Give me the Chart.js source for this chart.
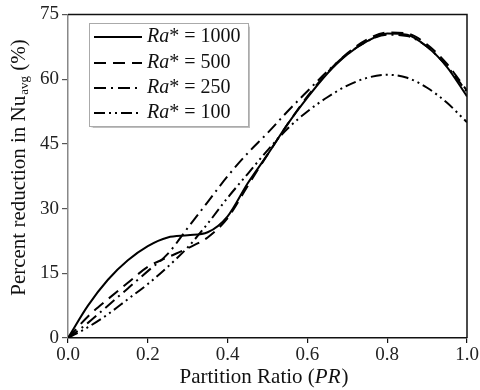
<!DOCTYPE html>
<html>
<head>
<meta charset="utf-8">
<script src="https://cdn.jsdelivr.net/npm/chart.js@4"></script>
<style>
  body { margin: 0; background: #fff; }
  #wrap { width: 480px; height: 390px; }
</style>
</head>
<body>
<div id="wrap"><canvas id="myChart" width="480" height="390"></canvas></div>
<script>
const pr = [0, 0.05, 0.1, 0.15, 0.2, 0.25, 0.3, 0.35, 0.4, 0.45, 0.5, 0.55, 0.6, 0.65, 0.7, 0.75, 0.8, 0.85, 0.9, 0.95, 1.0];
const ra1000 = [0, 7.5, 13.5, 18, 21.3, 23.3, 23.8, 24.5, 28.2, 35.8, 42.5, 49.5, 55.7, 61.3, 65.7, 68.8, 70.6, 70.3, 67.5, 62.8, 56];
const ra500 = [0, 5, 9, 12.8, 16.5, 18.7, 20.8, 23.3, 27.8, 35.2, 42.5, 49.5, 56, 61.5, 66, 69.2, 70.8, 70.6, 68, 63.5, 57.3];
const ra250 = [0, 3.5, 7.5, 11.5, 15.5, 19.5, 25.5, 31.5, 37.5, 42.8, 47.5, 52.5, 57.2, 61.8, 65.8, 68.8, 70.3, 70, 67.5, 63, 57];
const ra100 = [0, 2.5, 5.5, 9, 12.5, 16.5, 21, 26.5, 32.5, 38, 43.5, 48.5, 52.5, 55.8, 58.5, 60.3, 61, 60.3, 58, 54.5, 50];
const legendLabels = ['1000', '500', '250', '100'];
const xTicks = [0, 0.2, 0.4, 0.6, 0.8, 1.0];
const yTicks = [0, 15, 30, 45, 60, 75];

const serif = '"Liberation Serif", "DejaVu Serif", serif';

function pts(ys) {
    return pr.map((x, i) => ({ x: x, y: ys[i] }));
}

const dashes = [[], [12, 7], [12, 5, 2, 5], [11, 4, 2, 4, 2, 4]];

const extras = {
    id: 'extras',
    afterDraw(chart) {
        const c = chart.ctx;
        const a = chart.chartArea;
        c.save();
        // top & right frame
        c.strokeStyle = '#111';
        c.lineWidth = 1.5;
        c.beginPath();
        c.moveTo(a.left, a.top);
        c.lineTo(a.right, a.top);
        c.lineTo(a.right, a.bottom);
        c.stroke();

        // y title with subscript
        c.fillStyle = '#111';
        c.translate(19, 168);
        c.rotate(-Math.PI / 2);
        c.textBaseline = 'middle';
        const main = 'Percent reduction in Nu';
        const sub = 'avg';
        const tail = ' (%)';
        c.font = '21px ' + serif;
        const w1 = c.measureText(main).width;
        const w3 = c.measureText(tail).width;
        c.font = '13px ' + serif;
        const w2 = c.measureText(sub).width;
        let x0 = -(w1 + w2 + w3) / 2;
        c.font = '21px ' + serif;
        c.textAlign = 'left';
        c.fillText(main, x0, 0);
        c.font = '13px ' + serif;
        c.fillText(sub, x0 + w1 + 1, 6);
        c.font = '21px ' + serif;
        c.fillText(tail, x0 + w1 + w2 + 1, 0);
        c.restore();

        // x title
        c.save();
        c.fillStyle = '#111';
        c.textBaseline = 'middle';
        const p1 = 'Partition Ratio (';
        const p2 = 'PR';
        const p3 = ')';
        c.font = '21px ' + serif;
        const a1 = c.measureText(p1).width;
        const a3 = c.measureText(p3).width;
        c.font = 'italic 21px ' + serif;
        const a2 = c.measureText(p2).width;
        let xs = (a.left + a.right) / 2 - (a1 + a2 + a3) / 2 - 4;
        c.font = '21px ' + serif;
        c.fillText(p1, xs, 377);
        c.font = 'italic 21px ' + serif;
        c.fillText(p2, xs + a1, 377);
        c.font = '21px ' + serif;
        c.fillText(p3, xs + a1 + a2 + 1, 377);
        c.restore();

        // legend
        c.save();
        c.fillStyle = '#fff';
        c.shadowColor = 'rgba(0,0,0,0.25)';
        c.shadowOffsetX = 1.5;
        c.shadowOffsetY = 1.5;
        c.shadowBlur = 1;
        c.fillRect(89, 23, 159, 103);
        c.shadowColor = 'transparent';
        c.strokeStyle = '#aaa';
        c.lineWidth = 1;
        c.strokeRect(89.5, 23.5, 159, 103);
        const rows = [37, 63, 88, 113];
        legendLabels.forEach((lab, i) => {
            const y = rows[i];
            c.strokeStyle = '#000';
            c.lineWidth = 2;
            c.setLineDash(dashes[i]);
            c.beginPath();
            c.moveTo(94, y);
            c.lineTo(142, y);
            c.stroke();
            c.setLineDash([]);
            c.fillStyle = '#111';
            c.textBaseline = 'middle';
            c.font = 'italic 20px ' + serif;
            c.fillText('Ra', 147, y);
            const rw = c.measureText('Ra').width;
            c.font = '20px ' + serif;
            c.fillText('* = ' + lab, 147 + rw, y);
        });
        c.restore();
    }
};

const series = [ra1000, ra500, ra250, ra100];

const myChart = new Chart(document.getElementById('myChart'), {
    type: 'line',
    data: {
        datasets: series.map((s, i) => ({
            label: 'Ra* = ' + legendLabels[i],
            data: pts(s),
            borderColor: '#000',
            borderWidth: 2,
            borderDash: dashes[i],
            pointRadius: 0,
            fill: false,
            cubicInterpolationMode: 'monotone'
        }))
    },
    options: {
        responsive: false,
        animation: false,
        events: [],
        layout: { padding: { left: 0, right: 13, top: 13, bottom: 0 } },
        plugins: { legend: { display: false }, tooltip: { enabled: false } },
        scales: {
            x: {
                type: 'linear',
                min: 0,
                max: 1,
                afterBuildTicks: (s) => { s.ticks = xTicks.map(v => ({ value: v })); },
                afterFit: (s) => { s.height = 52; },
                ticks: {
                    color: '#222',
                    font: { family: serif, size: 19 },
                    padding: 1,
                    maxRotation: 0,
                    callback: (v) => v.toFixed(1)
                },
                grid: { drawOnChartArea: false, tickLength: 5, color: '#111', lineWidth: 1.2 },
                border: { color: '#111', width: 1.5 }
            },
            y: {
                min: 0,
                max: 75,
                afterBuildTicks: (s) => { s.ticks = yTicks.map(v => ({ value: v })); },
                afterFit: (s) => { s.width = 68; },
                ticks: {
                    color: '#222',
                    font: { family: serif, size: 19 },
                    padding: 3
                },
                grid: { drawOnChartArea: false, tickLength: 6, color: '#555', lineWidth: 1.2 },
                border: { color: '#888', width: 1.5 }
            }
        }
    },
    plugins: [extras]
});
</script>
</body>
</html>
